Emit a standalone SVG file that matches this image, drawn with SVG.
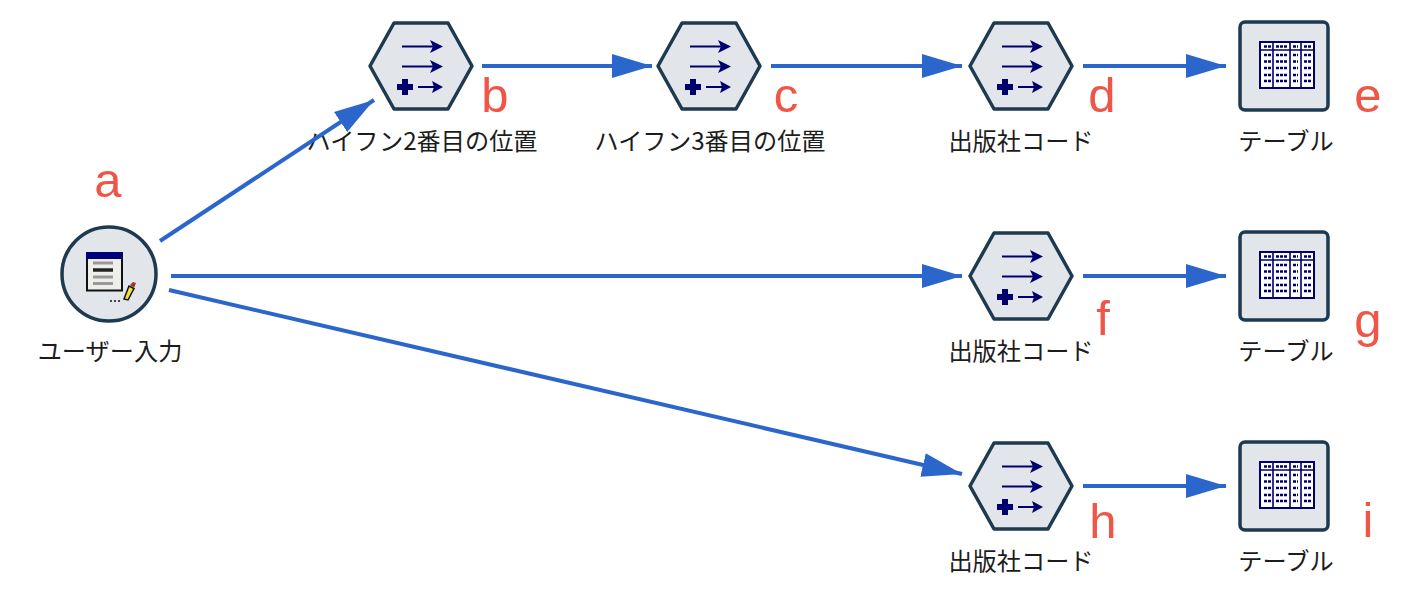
<svg xmlns="http://www.w3.org/2000/svg" width="1420" height="590" viewBox="0 0 1420 590">
<style>
.bg{fill:#e2e6eb;stroke:#1e3a50;stroke-width:3.5;stroke-linejoin:round}
.lbl{font-family:"Noto Sans CJK JP","Liberation Sans",sans-serif;font-size:24.2px;fill:#1c1c1c;text-anchor:middle}
.let{font-family:"Liberation Sans",Arial,sans-serif;font-size:49px;fill:#ef5647;text-anchor:middle}
.con{stroke:#2a66cc;stroke-width:4;fill:none;marker-end:url(#ah)}
.ic{stroke:#00006e;stroke-width:2;fill:none}
.icf{fill:#00006e}
</style>
<defs>
<marker id="ah" markerUnits="userSpaceOnUse" markerWidth="42" markerHeight="26" refX="40" refY="13" orient="auto"><path d="M0 1 L40 13 L0 25 Z" fill="#2a66cc"/></marker>
<g id="hex">
<polygon class="bg" points="-51,0 -27,-43 27,-43 51,0 27,43 -27,43"/>
<path class="ic" d="M-19,-19.500H18M-19,0.500H18M-3,21H18"/>
<path class="icf" d="M9,-26 L22,-19.500 L9,-13 L12,-19.500Z M9,-6 L22,0.500 L9,7 L12,0.500Z M11,15 L22,21 L11,27 L13,21Z"/>
<path class="icf" d="M-19,13H-13V18H-8V24H-13V29H-19V24H-24V18H-19Z"/>
</g>
<g id="tbl">
<rect class="bg" x="-44" y="-44" width="88" height="88" rx="5"/>
<rect x="-24" y="-24" width="54" height="46" fill="#fff" stroke="#00006e" stroke-width="2"/>
<path stroke="#00006e" stroke-width="1.600" fill="none" d="M-24,-16H30M-11,-24V22M6,-24V22M17,-24V22"/>
<path stroke="#00006e" stroke-width="2.400" stroke-dasharray="3 1" fill="none" d="M-20,-19.500H-13M-8,-19.500H3M9,-19.500H14M20,-19.500H27M-20,-11H-13M-8,-11H3M9,-11H14M20,-11H27M-20,-4.500H-13M-8,-4.500H3M9,-4.500H14M20,-4.500H27M-20,2H-13M-8,2H3M9,2H14M20,2H27M-20,9H-13M-8,9H3M9,9H14M20,9H27M-20,15H-13M-8,15H3M9,15H14M20,15H27"/>
</g>
</defs>
<rect width="1420" height="590" fill="#fff"/>
<g id="node-a">
<circle class="bg" cx="109" cy="274" r="47"/>
<rect x="87" y="253" width="35" height="37.500" fill="#eeeeea" stroke="#111" stroke-width="2"/>
<rect x="86" y="252" width="36" height="7" fill="#00007a"/>
<path stroke="#999" stroke-width="3" d="M93,263H113M93,277H113M93,283.500H113"/>
<path stroke="#222" stroke-width="3.500" d="M93,270H113"/>
<path d="M124,299 L129,286 L134,288.500 L128,300Z" fill="#f2e23a" stroke="#111" stroke-width="1.500"/>
<path d="M130,285 L133,282 L136,283 L134,288Z" fill="#a83226"/>
<path stroke="#111" stroke-width="1.500" stroke-dasharray="2 2" d="M110,301H122"/>
<text class="lbl" x="110" y="360">ユーザー入力</text>
</g>
<g id="node-b"><use href="#hex" x="421" y="66"/><text class="lbl" x="422" y="150">ハイフン2番目の位置</text></g>
<g id="node-c"><use href="#hex" x="709" y="66"/><text class="lbl" x="710" y="150">ハイフン3番目の位置</text></g>
<g id="node-d"><use href="#hex" x="1021" y="66"/><text class="lbl" x="1021" y="150">出版社コード</text></g>
<g id="node-e"><use href="#tbl" x="1284" y="66"/><text class="lbl" x="1286" y="150">テーブル</text></g>
<g id="node-f"><use href="#hex" x="1021" y="276"/><text class="lbl" x="1021" y="360">出版社コード</text></g>
<g id="node-g"><use href="#tbl" x="1284" y="276"/><text class="lbl" x="1286" y="360">テーブル</text></g>
<g id="node-h"><use href="#hex" x="1021" y="486"/><text class="lbl" x="1021" y="570">出版社コード</text></g>
<g id="node-i"><use href="#tbl" x="1284" y="486"/><text class="lbl" x="1286" y="570">テーブル</text></g>
<g id="connectors">
<path class="con" d="M160,241L374,100"/>
<path class="con" d="M171,276H962"/>
<path class="con" d="M169,290L962,474"/>
<path class="con" d="M482,66H652"/>
<path class="con" d="M771,66H962"/>
<path class="con" d="M1083,66H1226"/>
<path class="con" d="M1083,276H1226"/>
<path class="con" d="M1083,486H1226"/>
</g>
<g id="letters">
<text class="let" x="108" y="197">a</text>
<text class="let" x="495" y="112">b</text>
<text class="let" x="786" y="112">c</text>
<text class="let" x="1102" y="112">d</text>
<text class="let" x="1368" y="112">e</text>
<text class="let" x="1103" y="335">f</text>
<text class="let" x="1368" y="337">g</text>
<text class="let" x="1103" y="538">h</text>
<text class="let" x="1368" y="537">i</text>
</g>
</svg>
